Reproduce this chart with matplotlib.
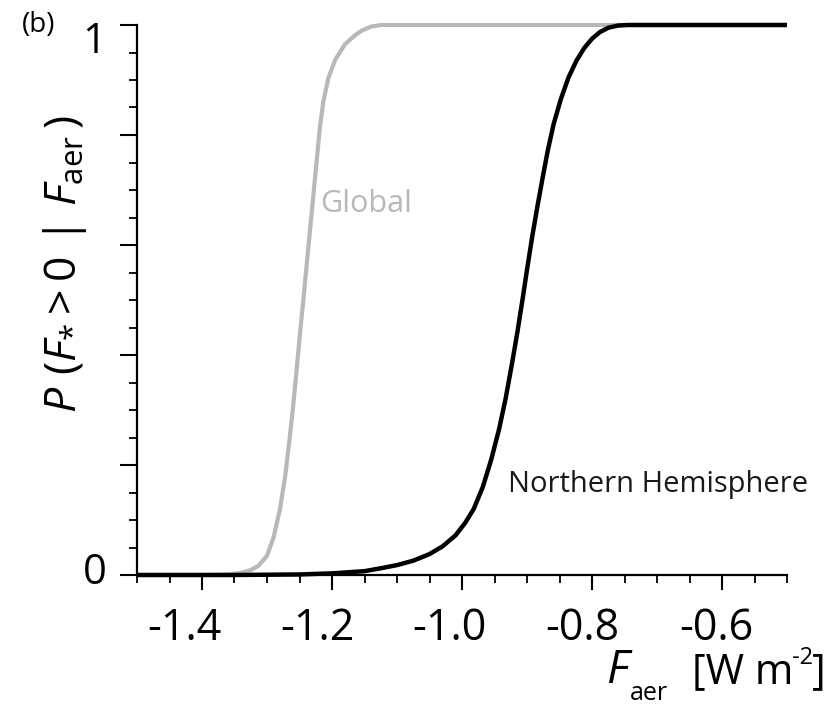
import matplotlib
matplotlib.use("Agg")
import matplotlib.pyplot as plt
from matplotlib.transforms import ScaledTranslation

# ---- data ----
global_x = [-1.50, -1.40, -1.36, -1.34, -1.325, -1.313, -1.300, -1.290, -1.280,
            -1.272, -1.265, -1.2595, -1.2543, -1.2492, -1.2441, -1.2389, -1.2338,
            -1.2287, -1.2236, -1.2185, -1.2134, -1.2057, -1.195, -1.180, -1.165,
            -1.154, -1.140, -1.125, -0.50]
global_y = [0.0, 0.0, 0.001, 0.004, 0.009, 0.017, 0.035, 0.068, 0.120,
            0.180, 0.250, 0.310, 0.375, 0.440, 0.500, 0.565, 0.627,
            0.690, 0.753, 0.815, 0.860, 0.903, 0.937, 0.965, 0.981,
            0.990, 0.997, 1.0, 1.0]

nh_x = [-1.50, -1.35, -1.25, -1.20, -1.15, -1.126, -1.10, -1.075, -1.05,
        -1.03, -1.01, -0.995, -0.982, -0.968, -0.955, -0.943, -0.933, -0.923,
        -0.915, -0.907, -0.900, -0.892, -0.884, -0.876, -0.868, -0.859,
        -0.848, -0.836, -0.824, -0.812, -0.800, -0.788, -0.775, -0.760,
        -0.745, -0.50]
nh_y = [0.0, 0.0, 0.001, 0.003, 0.007, 0.012, 0.018, 0.026, 0.038,
        0.052, 0.072, 0.095, 0.120, 0.160, 0.210, 0.265, 0.320, 0.385,
        0.440, 0.500, 0.555, 0.615, 0.670, 0.722, 0.772, 0.820,
        0.865, 0.905, 0.935, 0.958, 0.975, 0.987, 0.995, 0.999,
        1.0, 1.0]

x_major = [-1.4, -1.2, -1.0, -0.8, -0.6]
x_labels = ["-1.4", "-1.2", "-1.0", "-0.8", "-0.6"]
x_minor = [-1.5 + 0.05 * i for i in range(21)]
y_major = [0.0, 0.2, 0.4, 0.6, 0.8, 1.0]
y_labels = ["0", "", "", "", "", "1"]
y_minor = [0.05 * i for i in range(21)]

# ---- style ----
plt.rcParams["font.family"] = ["Open Sans", "DejaVu Sans"]
plt.rcParams["mathtext.fontset"] = "custom"
plt.rcParams["mathtext.rm"] = "Open Sans"
plt.rcParams["mathtext.it"] = "Open Sans:italic"
plt.rcParams["axes.unicode_minus"] = False

fig = plt.figure(figsize=(8.35, 7.05), dpi=100)
ax = fig.add_axes([137 / 835, 1 - 575 / 705, 650 / 835, 550 / 705])

ax.plot(global_x, global_y, color="#b8b8b8", lw=3.0, clip_on=False, zorder=2,
        solid_capstyle="butt", solid_joinstyle="round")
ax.plot(nh_x, nh_y, color="black", lw=3.2, clip_on=False, zorder=3,
        solid_capstyle="butt", solid_joinstyle="round")

ax.set_xlim(-1.5, -0.5)
ax.set_ylim(0, 1)

for s in ["top", "right"]:
    ax.spines[s].set_visible(False)
for s in ["left", "bottom"]:
    ax.spines[s].set_linewidth(1.6)
    ax.spines[s].set_zorder(4)

ax.set_xticks(x_major)
ax.set_xticklabels(x_labels)
ax.set_xticks(x_minor, minor=True)
ax.set_yticks(y_major)
ax.set_yticklabels(y_labels)
ax.set_yticks(y_minor, minor=True)

ax.tick_params(axis="x", which="major", length=11, width=1.5, direction="out",
               labelsize=31, pad=12)
ax.tick_params(axis="x", which="minor", length=5.5, width=1.3, direction="out")
ax.tick_params(axis="y", which="major", length=12, width=1.5, direction="out",
               labelsize=30, pad=10)
ax.tick_params(axis="y", which="minor", length=6, width=1.3, direction="out")

# small offsets to match hand-placed labels in the reference
x_shift_px = [-18, -15, -13, -10, -6]
for lab, dx in zip(ax.get_xticklabels(), x_shift_px):
    lab.set_transform(lab.get_transform() + ScaledTranslation(dx / 100, 0, fig.dpi_scale_trans))
y_shift_px = [7, 0, 0, 0, 0, -12]
for lab, dy in zip(ax.get_yticklabels(), y_shift_px):
    lab.set_transform(lab.get_transform() + ScaledTranslation(0, dy / 100, fig.dpi_scale_trans))

# annotations
ax.text(-1.219, 0.66, "Global", color="#b8b8b8", fontsize=22, ha="left",
        va="baseline")
ax.text(-0.929, 0.151, "Northern Hemisphere", color="#1a1a1a", fontsize=21,
        ha="left", va="baseline")

fig.text(22 / 835, 1 - 11 / 705, "(b)", fontsize=20, ha="left", va="top")

fig.text(65 / 835, 1 - 264 / 705,
         r"$P\ (F_{*} > 0\ |\ F_{\mathrm{aer}}\,)$",
         rotation=90, fontsize=32, ha="center", va="center")

# x-axis title: F_aer [W m^-2], composed piece by piece
W, H = 835.0, 705.0
fig.text(606 / W, 1 - 683 / H, "F", fontsize=33, style="italic",
         ha="left", va="baseline")
fig.text(630 / W, 1 - 700 / H, "aer", fontsize=18, ha="left", va="baseline")

renderer = fig.canvas.get_renderer()
t_close = fig.text(826 / W, 1 - 683 / H, "]", fontsize=30, ha="right", va="baseline")
x_right = t_close.get_window_extent(renderer).x0
t_sup = fig.text((x_right + 1) / W, 1 - 664 / H, "-2", fontsize=17, ha="right",
                 va="baseline")
x_right = t_sup.get_window_extent(renderer).x0
fig.text((x_right + 1) / W, 1 - 683 / H, "[W m", fontsize=30, ha="right",
         va="baseline")

fig.savefig("out.png", dpi=100)
